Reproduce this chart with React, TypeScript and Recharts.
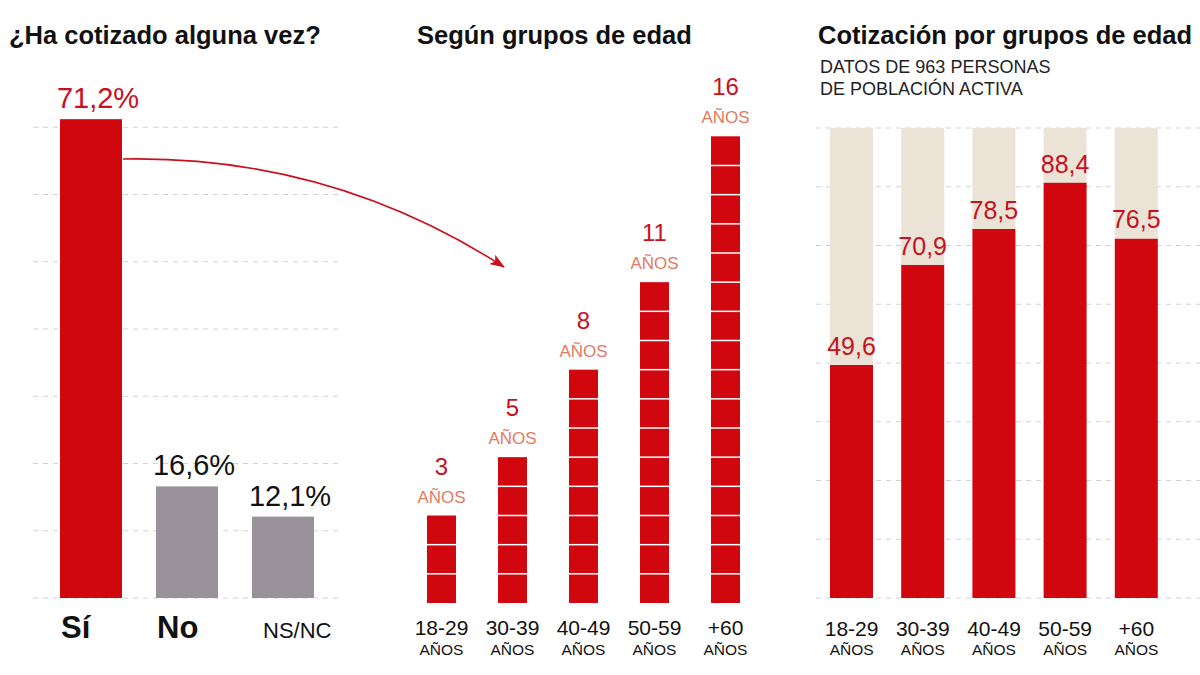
import { Bar, BarChart, CartesianGrid, LabelList, XAxis, YAxis } from "recharts"

const FONT = "'Liberation Sans', Arial, Helvetica, sans-serif"
const RED = "#d0070f"
const RED_TEXT = "#c8101e"
const SALMON = "#e27a62"
const GREY_BAR = "#99929a"
const BEIGE = "#ebe4d6"
const GRID = "#d2d2d2"

// panel 1: ¿Ha cotizado alguna vez?
const answerLabels = ["Sí", "No", "NS/NC"]
const answerValues = [71.2, 16.6, 12.1]
const answerTicks = [0, 10, 20, 30, 40, 50, 60, 70]

// panel 2: años cotizados según grupos de edad
const ageGroups = ["18-29", "30-39", "40-49", "50-59", "+60"]
const yearsValues = [3, 5, 8, 11, 16]

// panel 3: cotización por grupos de edad (%)
const cotizacionValues = [49.6, 70.9, 78.5, 88.4, 76.5]
const percentTicks = [0, 12.5, 25, 37.5, 50, 62.5, 75, 87.5, 100]

const answerData = answerLabels.map((name, i) => ({ name, value: answerValues[i] }))
const yearsData = ageGroups.map((name, i) => ({ name, years: yearsValues[i] }))
const cotizacionData = ageGroups.map((name, i) => ({
  name,
  value: cotizacionValues[i],
  rest: +(100 - cotizacionValues[i]).toFixed(1),
}))

const fmt = (v: number) => String(v).replace(".", ",")

const title: React.CSSProperties = {
  position: "absolute",
  fontFamily: FONT,
  fontWeight: 700,
  fontSize: 25.5,
  color: "#111",
  whiteSpace: "nowrap",
  lineHeight: "30px",
}

const AnswerTick = (props: any) => {
  const { x, y, payload, index } = props
  const bold = index < 2
  return (
    <text
      x={x - 30 + (index === 2 ? 10 : 0)}
      y={y + 40}
      textAnchor="start"
      fontFamily={FONT}
      fontWeight={bold ? 700 : 400}
      fontSize={bold ? 31 : 22}
      fill="#111"
    >
      {payload.value}
    </text>
  )
}

const AgeTick = (dy1: number, dy2: number) => (props: any) => {
  const { x, y, payload } = props
  return (
    <g fontFamily={FONT} fill="#111">
      <text x={x} y={y + dy1} textAnchor="middle" fontSize={21} fill="#111">
        {payload.value}
      </text>
      <text x={x} y={y + dy2} textAnchor="middle" fontSize={15.5} fill="#111">
        AÑOS
      </text>
    </g>
  )
}

const AnswerLabel = (props: any) => {
  const { x, y, width, value, index } = props
  return (
    <text
      x={x + width / 2 + 7}
      y={y - 11}
      textAnchor="middle"
      fontFamily={FONT}
      fontSize={29}
      fill={index === 0 ? RED_TEXT : "#111"}
    >
      {fmt(value)}%
    </text>
  )
}

const YearsLabel = (props: any) => {
  const { x, y, width, value } = props
  return (
    <g fontFamily={FONT}>
      <text x={x + width / 2} y={y - 41} textAnchor="middle" fontSize={24} fill={RED_TEXT}>
        {value}
      </text>
      <text x={x + width / 2} y={y - 13} textAnchor="middle" fontSize={17} fill={SALMON}>
        AÑOS
      </text>
    </g>
  )
}

const CotLabel = (props: any) => {
  const { x, y, width, value } = props
  return (
    <text x={x + width / 2} y={y - 10} textAnchor="middle" fontFamily={FONT} fontSize={25} fill={RED_TEXT}>
      {fmt(value)}
    </text>
  )
}

// bar split in one square per year
const SegmentedBar = (props: any) => {
  const { x, y, width, height, payload } = props
  const n = payload.years
  const lines = []
  for (let i = 1; i < n; i++) {
    const ly = y + (height * i) / n
    lines.push(<line key={i} x1={x} x2={x + width} y1={ly} y2={ly} stroke="#fff" strokeWidth={1.5} />)
  }
  return (
    <g>
      <rect x={x} y={y} width={width} height={height} fill={RED} />
      {lines}
    </g>
  )
}

export default function App() {
  return (
    <div style={{ position: "absolute", left: 0, top: 0, width: 1200, height: 675, background: "#fff", overflow: "hidden" }}>
      <div style={{ ...title, left: 9, top: 20 }}>¿Ha cotizado alguna vez?</div>
      <div style={{ ...title, left: 417, top: 20 }}>Según grupos de edad</div>
      <div style={{ ...title, left: 818, top: 20 }}>Cotización por grupos de edad</div>
      <div
        style={{
          position: "absolute",
          left: 820,
          top: 56,
          fontFamily: FONT,
          fontSize: 18,
          lineHeight: "22px",
          color: "#222",
          whiteSpace: "nowrap",
        }}
      >
        DATOS DE 963 PERSONAS
        <br />
        DE POBLACIÓN ACTIVA
      </div>

      <div style={{ position: "absolute", left: 0, top: 0 }}>
        <BarChart width={360} height={675} data={answerData} margin={{ top: 60, right: 17, bottom: 0, left: 33 }}>
          <CartesianGrid vertical={false} stroke={GRID} strokeDasharray="5 5" horizontalValues={answerTicks} />
          <XAxis
            dataKey="name"
            height={77}
            axisLine={false}
            tickLine={false}
            tickSize={0}
            tickMargin={0}
            interval={0}
            padding={{ left: 10, right: 12 }}
            tick={<AnswerTick />}
          />
          <YAxis hide domain={[0, 80]} ticks={answerTicks} />
          <Bar
            dataKey="value"
            barSize={62}
            isAnimationActive={false}
            shape={(p: any) => (
              <rect x={p.x} y={p.y} width={p.width} height={p.height} fill={p.index === 0 ? RED : GREY_BAR} />
            )}
          >
            <LabelList dataKey="value" content={<AnswerLabel />} />
          </Bar>
        </BarChart>
      </div>

      <div style={{ position: "absolute", left: 400, top: 0 }}>
        <BarChart width={380} height={675} data={yearsData} margin={{ top: 78, right: 19, bottom: 0, left: 6 }}>
          <XAxis
            dataKey="name"
            height={72}
            axisLine={false}
            tickLine={false}
            tickSize={0}
            tickMargin={0}
            interval={0}
            tick={AgeTick(32, 52)}
          />
          <YAxis hide domain={[0, 18]} />
          <Bar dataKey="years" barSize={29} isAnimationActive={false} shape={<SegmentedBar />}>
            <LabelList dataKey="years" content={<YearsLabel />} />
          </Bar>
        </BarChart>
      </div>

      <div style={{ position: "absolute", left: 800, top: 0 }}>
        <BarChart width={400} height={675} data={cotizacionData} margin={{ top: 128, right: 0, bottom: 0, left: 16 }}>
          <CartesianGrid vertical={false} stroke={GRID} strokeDasharray="5 5" horizontalValues={percentTicks} />
          <XAxis
            dataKey="name"
            height={77}
            axisLine={false}
            tickLine={false}
            tickSize={0}
            tickMargin={0}
            interval={0}
            padding={{ left: 0, right: 28 }}
            tick={AgeTick(38, 57)}
          />
          <YAxis hide domain={[0, 100]} ticks={percentTicks} />
          <Bar dataKey="value" stackId="a" barSize={43} fill={RED} isAnimationActive={false}>
            <LabelList dataKey="value" content={<CotLabel />} />
          </Bar>
          <Bar dataKey="rest" stackId="a" barSize={43} fill={BEIGE} isAnimationActive={false} />
        </BarChart>
      </div>

      <svg width={1200} height={675} style={{ position: "absolute", left: 0, top: 0, pointerEvents: "none" }}>
        <defs>
          <marker id="arrowHead" markerWidth="15" markerHeight="11" refX="14" refY="5.5" orient="auto" markerUnits="userSpaceOnUse">
            <path d="M0,0 L15,5.5 L0,11 L3.5,5.5 Z" fill={RED_TEXT} />
          </marker>
        </defs>
        <path d="M123,159 Q330,155 504,267" fill="none" stroke={RED_TEXT} strokeWidth={1.6} markerEnd="url(#arrowHead)" />
      </svg>
    </div>
  )
}
